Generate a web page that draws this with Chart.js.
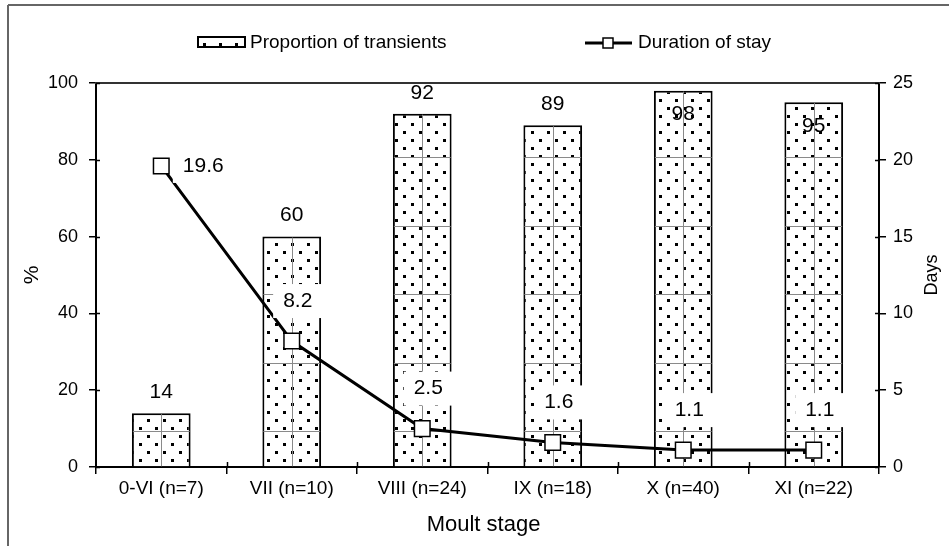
<!DOCTYPE html>
<html><head><meta charset="utf-8">
<script src="https://cdn.jsdelivr.net/npm/chart.js@4"></script>
<style>html,body{margin:0;padding:0;background:#fff;overflow:hidden}</style>
</head><body>
<canvas id="c" width="949" height="546"></canvas>
<script>
const categories = ['0-VI (n=7)','VII (n=10)','VIII (n=24)','IX (n=18)','X (n=40)','XI (n=22)'];
const proportionTransients = [14, 60, 92, 89, 98, 95];
const durationOfStay = [19.6, 8.2, 2.5, 1.6, 1.1, 1.1];
const percentTicks = [0, 20, 40, 60, 80, 100];
const dayTicks = [0, 5, 10, 15, 20, 25];
const seriesNames = ['Proportion of transients', 'Duration of stay'];
const xTitle = 'Moult stage';
const yTitle = '%';
const y2Title = 'Days';

const FONT = "'Liberation Sans', Arial, sans-serif";

function makePattern(ctx) {
  const t = document.createElement('canvas');
  t.width = 16; t.height = 16;
  const g = t.getContext('2d');
  g.fillStyle = '#fff'; g.fillRect(0, 0, 16, 16);
  g.fillStyle = '#000';
  g.fillRect(3, 3, 3, 3);
  g.fillRect(11, 11, 3, 3);
  return ctx.createPattern(t, 'repeat');
}

const canvas = document.getElementById('c');
const ctx0 = canvas.getContext('2d');
const dotPattern = makePattern(ctx0);

const decorPlugin = {
  id: 'decor',
  beforeDraw(chart) {
    const c = chart.ctx;
    c.save();
    c.fillStyle = '#fff';
    c.fillRect(0, 0, chart.width, chart.height);
    c.restore();
  },
  afterDatasetDraw(chart, args) {
    if (args.index !== 1) return;
    // faint tile seams visible inside the patterned bars
    const c = chart.ctx;
    const meta = chart.getDatasetMeta(1);
    c.save();
    c.strokeStyle = '#8a8a8a'; c.lineWidth = 1;
    meta.data.forEach(bar => {
      const half = bar.width / 2;
      const l = bar.x - half + 1, r = bar.x + half - 1;
      const top = bar.y + 1, bottom = bar.base;
      c.beginPath();
      const cx = Math.round(bar.x) + 0.5;
      c.moveTo(cx, top); c.lineTo(cx, bottom);
      for (let yy = bottom - 35; yy > top; yy -= 68.5) {
        const py = Math.round(yy) + 0.5;
        c.moveTo(l, py); c.lineTo(r, py);
      }
      c.stroke();
    });
    c.restore();
  },
  afterDatasetsDraw(chart) {
    const c = chart.ctx;
    const area = chart.chartArea;
    const barMeta = chart.getDatasetMeta(1);
    const lineMeta = chart.getDatasetMeta(0);
    c.save();
    c.font = '21px ' + FONT;
    c.textAlign = 'center';
    c.textBaseline = 'middle';
    c.fillStyle = '#000';
    barMeta.data.forEach((bar, i) => {
      const top = bar.y;
      let ly = top - 21;
      if (ly < area.top + 8) ly = top + 24;
      c.fillText(String(proportionTransients[i]), bar.x, ly);
    });
    lineMeta.data.forEach((pt, i) => {
      const txt = durationOfStay[i].toFixed(1);
      const w = c.measureText(txt).width;
      const barTop = barMeta.data[i].y;
      let lx, ly;
      if (pt.y < barTop) { lx = pt.x + 42; ly = pt.y; }
      else { lx = pt.x + 6; ly = pt.y - 40; }
      c.fillStyle = '#fff';
      c.fillRect(lx - w / 2 - 10, ly - 17, w + 20, 34);
      c.fillStyle = '#000';
      c.fillText(txt, lx, ly);
    });
    c.restore();
  },
  afterDraw(chart) {
    const c = chart.ctx;
    const area = chart.chartArea;
    c.save();
    c.strokeStyle = '#666'; c.lineWidth = 2;
    c.beginPath(); c.moveTo(8, 5); c.lineTo(chart.width, 5); c.moveTo(8, 5); c.lineTo(8, chart.height); c.stroke();
    c.strokeStyle = '#333'; c.lineWidth = 2;
    c.beginPath(); c.moveTo(area.left - 1, area.top); c.lineTo(area.right + 1, area.top); c.stroke();
    c.strokeStyle = '#000'; c.lineWidth = 1.5;
    c.beginPath();
    const ys = chart.scales.y, y2 = chart.scales.y2, xs = chart.scales.x;
    percentTicks.forEach(v => { const yy = Math.round(ys.getPixelForValue(v)) + 0.5; c.moveTo(area.left, yy); c.lineTo(area.left + 4, yy); });
    dayTicks.forEach(v => { const yy = Math.round(y2.getPixelForValue(v)) + 0.5; c.moveTo(area.right, yy); c.lineTo(area.right - 4, yy); });
    for (let i = 1; i < categories.length; i++) {
      const xx = Math.round((xs.getPixelForTick(i - 1) + xs.getPixelForTick(i)) / 2) + 0.5;
      c.moveTo(xx, area.bottom); c.lineTo(xx, area.bottom - 5);
    }
    c.stroke();
    c.fillStyle = '#000';
    c.textAlign = 'center'; c.textBaseline = 'middle';
    c.font = '22px ' + FONT;
    c.fillText(xTitle, (area.left + area.right) / 2 - 4, 525);
    const midY = (area.top + area.bottom) / 2;
    c.save(); c.translate(32, midY); c.rotate(-Math.PI / 2); c.font = '21px ' + FONT; c.fillText(yTitle, 0, 0); c.restore();
    c.save(); c.translate(932, midY); c.rotate(-Math.PI / 2); c.font = '18px ' + FONT; c.fillText(y2Title, 0, 0); c.restore();
    const ly = 43;
    c.fillStyle = dotPattern;
    c.fillRect(198, 37, 47, 10);
    c.strokeStyle = '#000'; c.lineWidth = 2;
    c.strokeRect(198, 37, 47, 10);
    c.fillStyle = '#000';
    c.font = '19px ' + FONT; c.textAlign = 'left';
    c.fillText(seriesNames[0], 250, ly);
    c.beginPath(); c.lineWidth = 3; c.moveTo(585, ly); c.lineTo(632, ly); c.stroke();
    c.fillStyle = '#fff'; c.fillRect(603, ly - 5, 10, 10);
    c.lineWidth = 1.5; c.strokeRect(603, ly - 5, 10, 10);
    c.fillStyle = '#000';
    c.fillText(seriesNames[1], 638, ly);
    c.restore();
  }
};

new Chart(canvas, {
  type: 'bar',
  data: {
    labels: categories,
    datasets: [
      {
        type: 'line', label: seriesNames[1], data: durationOfStay, yAxisID: 'y2', order: 1,
        borderColor: '#000', borderWidth: 3, tension: 0, fill: false,
        pointStyle: 'rect', pointRadius: 11, pointBackgroundColor: '#fff',
        pointBorderColor: '#000', pointBorderWidth: 1.5
      },
      {
        type: 'bar', label: seriesNames[0], data: proportionTransients, yAxisID: 'y', order: 2,
        backgroundColor: dotPattern, borderColor: '#000', borderWidth: 2,
        barPercentage: 0.45, categoryPercentage: 1
      }
    ]
  },
  options: {
    responsive: false, animation: false, devicePixelRatio: 1,
    layout: { padding: { top: 83, left: 0, right: 0, bottom: 0 } },
    plugins: { legend: { display: false }, tooltip: { enabled: false } },
    scales: {
      x: {
        offset: true,
        grid: { display: true, offset: true, drawOnChartArea: false, drawTicks: true, tickLength: 7, color: '#000', lineWidth: 1.5 },
        border: { display: true, color: '#000', width: 2 },
        ticks: { color: '#000', font: { family: FONT, size: 19 }, padding: 3, maxRotation: 0, autoSkip: false },
        afterFit(s) { s.height = 79; }
      },
      y: {
        position: 'left', min: 0, max: 100,
        afterBuildTicks(s) { s.ticks = percentTicks.map(v => ({ value: v })); },
        grid: { display: true, drawOnChartArea: false, drawTicks: true, tickLength: 7, color: '#000', lineWidth: 1.5 },
        border: { display: true, color: '#000', width: 2 },
        ticks: { color: '#000', font: { family: FONT, size: 18 }, padding: 11 },
        afterFit(s) { s.width = 96; }
      },
      y2: {
        position: 'right', min: 0, max: 25,
        afterBuildTicks(s) { s.ticks = dayTicks.map(v => ({ value: v })); },
        grid: { display: true, drawOnChartArea: false, drawTicks: true, tickLength: 7, color: '#000', lineWidth: 1.5 },
        border: { display: true, color: '#000', width: 2 },
        ticks: { color: '#000', font: { family: FONT, size: 18 }, padding: 7 },
        afterFit(s) { s.width = 70; }
      }
    }
  },
  plugins: [decorPlugin]
});
</script>
</body></html>
